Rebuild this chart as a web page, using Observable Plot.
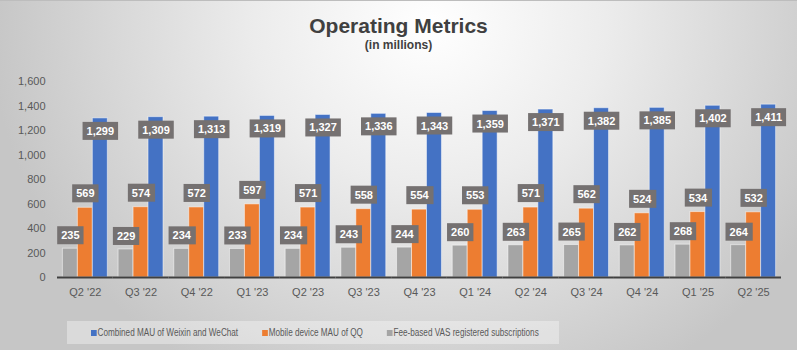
<!DOCTYPE html>
<html>
<head>
<meta charset="utf-8">
<script src="https://cdn.jsdelivr.net/npm/d3@7"></script>
<script src="https://cdn.jsdelivr.net/npm/@observablehq/plot@0.6"></script>
<style>
  body { margin: 0; }
  #chart {
    position: relative; width: 797px; height: 350px; overflow: hidden; box-sizing: border-box;
    border-top: 1px solid #bdbdbd;
    background: radial-gradient(ellipse 440px 400px at 430px 25px, #ffffff 0%, #ececec 40%, #c6c6c6 100%);
    font-family: "Liberation Sans", Arial, sans-serif;
  }
  #title { position: absolute; left: 0; width: 797px; top: 13px; text-align: center; font-weight: bold; font-size: 21px; color: #404040; line-height: 24px; }
  #subtitle { position: absolute; left: 0; width: 797px; top: 37px; text-align: center; font-weight: bold; font-size: 12px; color: #404040; line-height: 14px; }
  #plot { position: absolute; left: 0; top: 60px; }
  #legend { position: absolute; left: 67px; top: 320px; width: 492px; height: 23px; background: rgba(255,255,255,0.35); overflow: hidden; }
  #legend .lg-swatches { margin: 0 0 0 24px !important; min-height: 23px !important; height: 23px; width: 600px;
    flex-wrap: nowrap !important; transform: scaleX(0.815); transform-origin: 0 50%;
    font-family: "Liberation Sans", Arial, sans-serif !important; font-size: 10px !important; color: #595959; }
  #legend .lg-swatch { margin-right: 29.5px !important; white-space: nowrap; }
  #legend .lg-swatch > svg { margin-right: 1px !important; }
</style>
</head>
<body>
<div id="chart">
  <div id="title">Operating Metrics</div>
  <div id="subtitle">(in millions)</div>
  <div id="plot"></div>
  <div id="legend"></div>
</div>
<script>
const quarters = ["Q2 '22","Q3 '22","Q4 '22","Q1 '23","Q2 '23","Q3 '23","Q4 '23","Q1 '24","Q2 '24","Q3 '24","Q4 '24","Q1 '25","Q2 '25"];
const seriesNames = ["Combined MAU of Weixin and WeChat", "Mobile device MAU of QQ", "Fee-based VAS registered subscriptions"];
const weixin = [1299,1309,1313,1319,1327,1336,1343,1359,1371,1382,1385,1402,1411];
const qq = [569,574,572,597,571,558,554,553,571,562,524,534,532];
const vas = [235,229,234,233,234,243,244,260,263,265,262,268,264];
const seriesColors = ["#4472C4", "#ED7D31", "#A5A5A5"];
const yTicks = [0,200,400,600,800,1000,1200,1400,1600];

const data = quarters.flatMap((q, i) => [
  {quarter: q, series: seriesNames[2], value: vas[i]},
  {quarter: q, series: seriesNames[1], value: qq[i]},
  {quarter: q, series: seriesNames[0], value: weixin[i]}
]);

const fmt = d3.format(",");
const labelMark = (name, dy) => Plot.text(data.filter(d => d.series === name), {
  fx: "quarter", x: "series", y: "value", text: d => fmt(d.value), dy,
  fill: "white", fontWeight: "bold", fontSize: 11
});

const plot = Plot.plot({
  width: 797, height: 250,
  marginTop: 20, marginBottom: 34, marginLeft: 57, marginRight: 16,
  style: {background: "transparent", fontFamily: "'Liberation Sans', Arial, sans-serif", fontSize: "11px", color: "#595959", overflow: "visible"},
  fx: {domain: quarters, padding: 0, round: false, label: null, axis: "bottom", tickSize: 0, tickPadding: 11},
  x: {domain: [seriesNames[2], seriesNames[1], seriesNames[0]], paddingInner: 0, paddingOuter: 0.36, round: false, axis: null},
  y: {domain: [0, 1600], ticks: yTicks, tickFormat: fmt, tickSize: 0, tickPadding: 12, label: null},
  color: {domain: seriesNames, range: seriesColors},
  marks: [
    Plot.barY(data, {fx: "quarter", x: "series", y: "value", fill: "series", stroke: "white", strokeOpacity: 0.5, strokeWidth: 1}),
    Plot.ruleY([0], {stroke: "#404040", strokeWidth: 2}),
    labelMark(seriesNames[2], -13),
    labelMark(seriesNames[1], -14),
    labelMark(seriesNames[0], 13)
  ]
});
document.getElementById("plot").appendChild(plot);

const svgns = "http://www.w3.org/2000/svg";
plot.querySelectorAll('g[aria-label="text"] text').forEach(t => {
  const b = t.getBBox();
  const r = document.createElementNS(svgns, "rect");
  r.setAttribute("x", b.x - 4);
  r.setAttribute("width", b.width + 8);
  r.setAttribute("y", b.y + b.height / 2 - 9);
  r.setAttribute("height", 18);
  r.setAttribute("fill", "#757171");
  r.setAttribute("stroke", "none");
  const tr = t.getAttribute("transform");
  if (tr) r.setAttribute("transform", tr);
  t.parentNode.insertBefore(r, t);
});

const leg = plot.legend("color", {className: "lg", swatchWidth: 7, swatchHeight: 6});
document.getElementById("legend").appendChild(leg);
</script>
</body>
</html>
